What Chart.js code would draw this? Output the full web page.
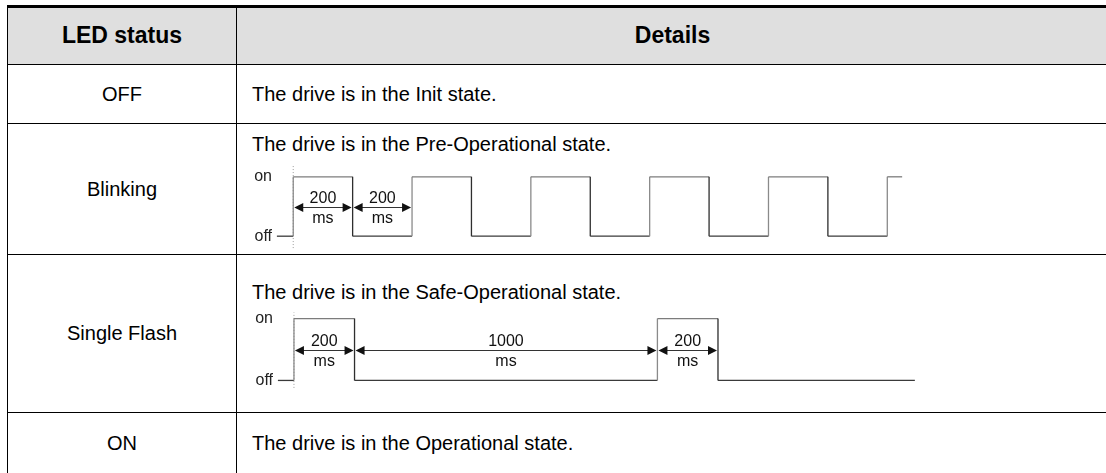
<!DOCTYPE html>
<html>
<head>
<meta charset="utf-8">
<script src="https://cdn.jsdelivr.net/npm/chart.js@4.4.1/dist/chart.umd.min.js"></script>
<style>
    html, body { margin: 0; padding: 0; background: #fff; width: 1106px; height: 473px; overflow: hidden; }
    body { position: relative; font-family: 'Liberation Sans', Arial, sans-serif; color: #000; }
    .line { position: absolute; background: #000; }
    .t { position: absolute; height: 40px; line-height: 40px; font-size: 20px; white-space: nowrap; }
    .c1 { left: 8px; width: 228px; text-align: center; }
    .c2 { left: 252px; }
    .hd { font-weight: bold; font-size: 23px; }
    canvas { position: absolute; }
</style>
</head>
<body>
    <!-- header background -->
    <div style="position:absolute; left:8px; top:8px; width:1100px; height:56px; background:#dfdfdf;"></div>

    <!-- table rules -->
    <div class="line" style="left:7px; top:5px; width:1102px; height:3px;"></div>
    <div class="line" style="left:7px; top:64px; width:1102px; height:1px;"></div>
    <div class="line" style="left:7px; top:123px; width:1102px; height:1px;"></div>
    <div class="line" style="left:7px; top:254px; width:1102px; height:1px;"></div>
    <div class="line" style="left:7px; top:412px; width:1102px; height:1px;"></div>
    <div class="line" style="left:7px; top:5px; width:1px; height:470px;"></div>
    <div class="line" style="left:236px; top:8px; width:1px; height:467px;"></div>

    <!-- cell texts -->
    <div class="t c1 hd" style="top:15px;">LED status</div>
    <div class="t hd" style="top:15px; left:237px; width:871px; text-align:center;">Details</div>

    <div class="t c1" style="top:74px;">OFF</div>
    <div class="t c2" style="top:74px;">The drive is in the Init state.</div>

    <div class="t c1" style="top:169px;">Blinking</div>
    <div class="t c2" style="top:124px;">The drive is in the Pre-Operational state.</div>

    <div class="t c1" style="top:313px;">Single Flash</div>
    <div class="t c2" style="top:272px;">The drive is in the Safe-Operational state.</div>

    <div class="t c1" style="top:423px;">ON</div>
    <div class="t c2" style="top:423px;">The drive is in the Operational state.</div>

    <canvas id="blinkChart" width="671" height="95" style="left:246px; top:159px;"></canvas>
    <canvas id="flashChart" width="683" height="99" style="left:247px; top:300px;"></canvas>

<script>
// LED level names on the y axis
const levelValues = [0, 1];
const levelLabels = ['off', 'on'];
const spanUnit = 'ms';

// Blinking: edge times (ms) and the level that holds from each edge on
const blinkEdges = [-55, 0, 200, 400, 600, 800, 1000, 1200, 1400, 1600, 1800, 2000, 2050];
const blinkLevels = [0, 1, 0, 1, 0, 1, 0, 1, 0, 1, 0, 1, 1];
const blinkMarker = [-0.2, 1.2];
const blinkSpans = [[0, 200], [200, 400]];
const blinkSpanLabels = ['200', '200'];

// Single flash
const flashEdges = [-53, 0, 200, 1200, 1400, 2050];
const flashLevels = [0, 1, 0, 1, 0, 0];
const flashMarker = [-0.12, 1.1];
const flashSpans = [[0, 200], [200, 1200], [1200, 1400]];
const flashSpanLabels = ['200', '1000', '200'];

const FONT = "'Liberation Sans', Arial, sans-serif";

// turn edge list into square wave points
function toSteps(edges, levels) {
    const pts = [];
    edges.forEach((t, i) => {
        if (i > 0 && levels[i - 1] !== levels[i]) pts.push({ x: t, y: levels[i - 1] });
        pts.push({ x: t, y: levels[i] });
    });
    return pts;
}

// dimension arrows with "200 / ms" labels
function spanPlugin(spans, labels) {
    return {
        id: 'spanArrows',
        afterDatasetsDraw(chart) {
            const { ctx, scales: { x, y } } = chart;
            const yy = Math.round(y.getPixelForValue(0.5)) + 0.5;
            ctx.save();
            spans.forEach((s, i) => {
                const x0 = x.getPixelForValue(s[0]);
                const x1 = x.getPixelForValue(s[1]);
                ctx.strokeStyle = '#333';
                ctx.lineWidth = 1;
                ctx.beginPath();
                ctx.moveTo(x0 + 4, yy);
                ctx.lineTo(x1 - 4, yy);
                ctx.stroke();

                ctx.fillStyle = '#111';
                ctx.beginPath();
                ctx.moveTo(x0 + 1, yy);
                ctx.lineTo(x0 + 10, yy - 4.5);
                ctx.lineTo(x0 + 10, yy + 4.5);
                ctx.closePath();
                ctx.fill();
                ctx.beginPath();
                ctx.moveTo(x1 - 1, yy);
                ctx.lineTo(x1 - 10, yy - 4.5);
                ctx.lineTo(x1 - 10, yy + 4.5);
                ctx.closePath();
                ctx.fill();

                ctx.font = '16px ' + FONT;
                ctx.textAlign = 'center';
                ctx.textBaseline = 'alphabetic';
                const cx = (x0 + x1) / 2;
                ctx.fillText(labels[i], cx, yy - 5);
                ctx.fillText(spanUnit, cx, yy + 15);
            });
            ctx.restore();
        }
    };
}

function makeDiagram(canvasId, edges, levels, marker, spans, spanLabels, xMin, xMax) {
    const ctx = document.getElementById(canvasId);
    return new Chart(ctx, {
        type: 'line',
        data: {
            datasets: [
                {
                    data: toSteps(edges, levels),
                    borderWidth: 1.3,
                    pointRadius: 0,
                    tension: 0,
                    segment: {
                        borderColor: c => {
                            const a = c.p0.parsed, b = c.p1.parsed;
                            if (a.x === b.x) return b.y > a.y ? '#8a8a8a' : '#2e2e2e';
                            return a.y === 1 ? '#7c7c7c' : '#3a3a3a';
                        }
                    }
                },
                {
                    data: [{ x: 0, y: marker[0] }, { x: 0, y: marker[1] }],
                    borderColor: '#9a9a9a',
                    borderWidth: 1,
                    borderDash: [1, 2],
                    pointRadius: 0
                }
            ]
        },
        options: {
            responsive: false,
            animation: false,
            layout: { padding: 0 },
            plugins: { legend: { display: false }, tooltip: { enabled: false } },
            scales: {
                x: { type: 'linear', min: xMin, max: xMax, display: false },
                y: {
                    type: 'linear',
                    min: -0.3,
                    max: 1.3,
                    grid: { display: false, drawTicks: false },
                    border: { display: false },
                    afterBuildTicks: axis => { axis.ticks = levelValues.map(v => ({ value: v })); },
                    afterFit: axis => {
                        axis.width = 30;
                        axis.paddingTop = 0;
                        axis.paddingBottom = 0;
                    },
                    ticks: {
                        padding: 4,
                        color: '#222',
                        font: { family: FONT, size: 16 },
                        callback: v => levelLabels[levelValues.indexOf(v)]
                    }
                }
            }
        },
        plugins: [spanPlugin(spans, spanLabels)]
    });
}

makeDiagram('blinkChart', blinkEdges, blinkLevels, blinkMarker, blinkSpans, blinkSpanLabels, -58, 2100);
makeDiagram('flashChart', flashEdges, flashLevels, flashMarker, flashSpans, flashSpanLabels, -56, 2100);
</script>
</body>
</html>
